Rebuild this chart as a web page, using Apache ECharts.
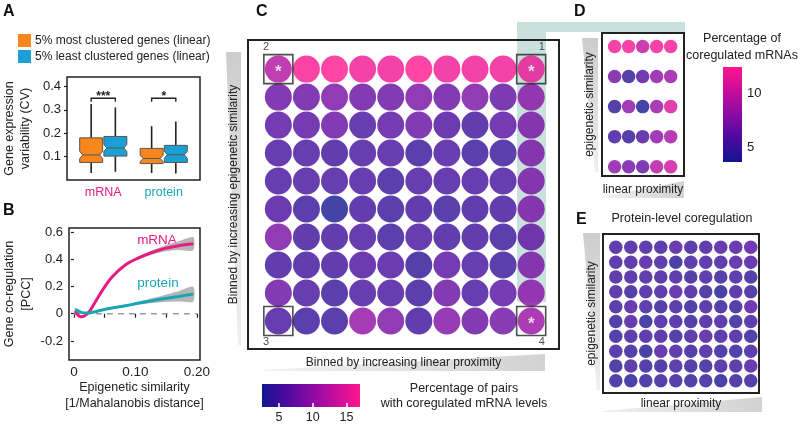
<!DOCTYPE html>
<html><head><meta charset="utf-8">
<script src="https://cdn.jsdelivr.net/npm/echarts@6/dist/echarts.min.js"></script>
<style>html,body{margin:0;padding:0;background:#fff}#c{width:800px;height:425px}</style>
</head><body><div id="c"></div>
<script>
// ---------- Panel A: gene expression variability (CV) ----------
const boxCategories = ['mRNA', 'protein'];
const legendNames = ['5% most clustered genes (linear)', '5% least clustered genes (linear)'];
// [low whisker, Q1, median, Q3, high whisker]
const mostClusteredBox = [[0.030, 0.075, 0.107, 0.180, 0.325], [0.030, 0.070, 0.092, 0.135, 0.230]];
const leastClusteredBox = [[0.035, 0.102, 0.137, 0.186, 0.310], [0.028, 0.075, 0.108, 0.148, 0.250]];
const mostClusteredNotch = [0.016, 0.014];
const leastClusteredNotch = [0.015, 0.015];
const significanceY = [0.349, 0.349];
const significanceText = ['***', '*'];
const cvTicks = [0.1, 0.2, 0.3, 0.4];

// ---------- Panel B: co-regulation vs epigenetic similarity ----------
const similarityX = [0.002, 0.011, 0.017, 0.025, 0.035, 0.046, 0.062, 0.084, 0.105, 0.127, 0.148, 0.170, 0.194];
const mrnaPCC     = [0.020, -0.022, -0.017, 0.015, 0.088, 0.170, 0.270, 0.360, 0.410, 0.450, 0.480, 0.500, 0.515];
const mrnaCI      = [0.015, 0.010, 0.008, 0.006, 0.005, 0.005, 0.006, 0.008, 0.010, 0.015, 0.022, 0.032, 0.048];
const proteinPCC  = [0.028, 0.012, 0.005, 0.008, 0.015, 0.028, 0.042, 0.058, 0.078, 0.096, 0.112, 0.127, 0.144];
const proteinCI   = [0.015, 0.010, 0.008, 0.006, 0.005, 0.005, 0.006, 0.008, 0.012, 0.018, 0.026, 0.038, 0.054];
const pccTicks = [-0.2, 0, 0.2, 0.4, 0.6];
const simLabelTicks = [0, 0.1, 0.2];
const simTicks = [0, 0.05, 0.1, 0.15, 0.2];

// ---------- Panel C: mRNA coregulation grid (rows: top = highest similarity) ----------
const cProximityBins = [1, 2, 3, 4, 5, 6, 7, 8, 9, 10];
const cSimilarityBins = [10, 9, 8, 7, 6, 5, 4, 3, 2, 1];
const cValues = [
  [12.0, 16.5, 17.0, 16.0, 16.0, 17.0, 16.0, 16.0, 16.0, 15.5],
  [7.5, 7.5, 8.5, 7.5, 7.5, 8.5, 7.5, 8.5, 7.0, 9.5],
  [6.5, 6.5, 7.5, 5.5, 6.5, 7.5, 6.0, 5.0, 6.5, 8.5],
  [5.5, 5.5, 5.0, 5.5, 5.5, 4.5, 5.5, 4.5, 4.5, 8.5],
  [5.5, 5.5, 5.5, 5.5, 4.5, 5.5, 5.5, 5.5, 5.5, 8.5],
  [6.0, 4.5, 2.5, 5.0, 4.5, 5.0, 4.5, 5.0, 5.0, 8.5],
  [8.5, 5.0, 5.0, 5.5, 4.5, 5.5, 5.0, 5.0, 4.5, 7.0],
  [5.0, 5.0, 5.0, 6.0, 6.0, 4.0, 6.5, 5.5, 4.5, 8.5],
  [7.5, 5.5, 4.5, 5.5, 5.5, 4.5, 7.5, 5.5, 6.5, 9.5],
  [5.5, 4.5, 4.5, 10.0, 8.5, 5.0, 9.0, 7.5, 8.0, 10.5]
];
const cCorners = [[10, 10], [1, 10], [1, 1], [10, 1]];
const cCornerLabels = ['1', '2', '3', '4'];
const cStarCorners = [[1, 10], [10, 10], [10, 1]];
const cScaleMin = 2.5, cScaleMax = 17;
const cColorTicks = [5, 10, 15];

// ---------- Panel D: 5x5 mRNA grid ----------
const dProximityBins = [1, 2, 3, 4, 5];
const dSimilarityBins = [5, 4, 3, 2, 1];
const dValues = [
  [12.0, 12.0, 10.0, 12.0, 12.0],
  [7.0, 4.5, 6.0, 8.0, 8.5],
  [4.3, 8.0, 3.6, 8.5, 11.0],
  [5.0, 4.5, 5.5, 8.0, 9.0],
  [8.0, 7.0, 6.5, 9.5, 10.5]
];
const dScaleMin = 3.6, dScaleMax = 12.5;
const dColorTicks = [5, 10];

// ---------- Panel E: protein-level grid ----------
const eProximityBins = [1, 2, 3, 4, 5, 6, 7, 8, 9, 10];
const eSimilarityBins = [10, 9, 8, 7, 6, 5, 4, 3, 2, 1];
const eValues = [
  [5.0, 5.0, 5.0, 5.0, 5.5, 5.0, 5.0, 5.5, 5.5, 6.0],
  [5.0, 5.0, 5.5, 5.0, 4.0, 5.0, 5.0, 5.0, 5.5, 5.5],
  [5.0, 5.0, 5.0, 5.0, 5.0, 4.5, 5.0, 4.5, 5.0, 4.5],
  [5.0, 4.5, 5.0, 5.0, 5.5, 5.0, 4.5, 3.8, 5.0, 4.5],
  [5.0, 5.5, 5.0, 4.5, 5.0, 4.5, 5.0, 4.5, 4.5, 6.0],
  [4.5, 5.5, 4.0, 5.0, 5.0, 4.5, 5.0, 5.0, 4.5, 5.0],
  [4.5, 5.0, 5.0, 5.0, 4.5, 5.0, 5.5, 5.0, 5.0, 4.5],
  [5.0, 4.5, 4.0, 5.5, 5.0, 4.5, 5.0, 4.5, 4.5, 5.0],
  [4.5, 5.0, 4.5, 4.5, 5.0, 4.5, 4.5, 5.0, 5.0, 5.5],
  [4.5, 4.0, 4.5, 4.5, 4.5, 4.5, 4.5, 4.0, 4.5, 4.5]
];

// ---------- styling ----------
const FONT = '"Liberation Sans", Arial, Helvetica, sans-serif';
const INK = '#222';
const ORANGE = '#f7861c', BLUE = '#1c9fd4';
const PINK = '#ea1a84', TEAL = '#17a6b6';
const palette = ['#14158f', '#4b0a9e', '#8a0ba4', '#c70d9c', '#ff168e'];
const paletteStops = palette.map((c, i) => ({ offset: i / (palette.length - 1), color: c }));

const chart = echarts.init(document.getElementById('c'), null, { renderer: 'canvas', width: 800, height: 425 });

function gridData(rows, xs, ys) {
  const out = [];
  rows.forEach((row, r) => row.forEach((v, c) => out.push([xs[c], ys[r], v])));
  return out;
}

function boxRenderer(color, notches) {
  return function (params, api) {
    const x = api.value(0);
    const lo = api.value(1), q1 = api.value(2), md = api.value(3), q3 = api.value(4), hi = api.value(5);
    const nt = notches[params.dataIndex];
    const hw = 0.19;
    const L = api.coord([x - hw, md])[0], R = api.coord([x + hw, md])[0], C = api.coord([x, md])[0];
    const y = v => api.coord([x, v])[1];
    const n = (R - L) * 0.13;
    const pts = [[L, y(q1)], [R, y(q1)], [R, y(md - nt)], [R - n, y(md)], [R, y(md + nt)], [R, y(q3)],
                 [L, y(q3)], [L, y(md + nt)], [L + n, y(md)], [L, y(md - nt)]];
    return { type: 'group', children: [
      { type: 'line', shape: { x1: C, y1: y(lo), x2: C, y2: y(q1) }, style: { stroke: INK, lineWidth: 1.6 } },
      { type: 'line', shape: { x1: C, y1: y(q3), x2: C, y2: y(hi) }, style: { stroke: INK, lineWidth: 1.6 } },
      { type: 'polygon', shape: { points: pts }, style: { fill: color, stroke: '#555', lineWidth: 1 } },
      { type: 'line', shape: { x1: L + n, y1: y(md), x2: R - n, y2: y(md) }, style: { stroke: '#555', lineWidth: 1 } }
    ] };
  };
}

function bandRenderer(ys, ci) {
  return function (params, api) {
    if (params.dataIndex !== 0) return null;
    const up = similarityX.map((x, i) => api.coord([x, ys[i] + ci[i]]));
    const dn = similarityX.map((x, i) => api.coord([x, ys[i] - ci[i]])).reverse();
    return { type: 'polygon', shape: { points: up.concat(dn), smooth: 0.25 }, style: { fill: '#a9a9a9', opacity: 0.85 } };
  };
}

function hiddenAxis(gridIndex, min, max, extra) {
  return Object.assign({
    gridIndex, type: 'value', min, max,
    axisLine: { show: false }, axisTick: { show: false }, axisLabel: { show: false }, splitLine: { show: false }
  }, extra || {});
}

const nameStyle = { color: INK, fontSize: 12, fontFamily: FONT };

const option = {
  backgroundColor: '#fff',
  animation: false,
  textStyle: { fontFamily: FONT },
  legend: {
    data: legendNames, left: 18, top: 34, padding: 0, orient: 'vertical', icon: 'rect',
    itemWidth: 13, itemHeight: 13, itemGap: 3, selectedMode: false,
    textStyle: { fontSize: 12, color: INK, padding: [0, 0, 0, -1] }
  },
  grid: [
    { left: 67, top: 77, width: 133, height: 103, show: true, borderColor: INK, borderWidth: 1.5 },
    { left: 68, top: 228, width: 132, height: 132, show: true, borderColor: INK, borderWidth: 1.5 },
    { left: 248, top: 40, width: 311, height: 309, show: true, borderColor: INK, borderWidth: 2 },
    { left: 602, top: 33, width: 82, height: 143, show: true, borderColor: INK, borderWidth: 2 },
    { left: 603, top: 234, width: 156, height: 159, show: true, borderColor: INK, borderWidth: 2 },
    { left: 262, top: 384, width: 98, height: 23, show: false },
    { left: 723, top: 67, width: 19, height: 95, show: false }
  ],
  xAxis: [
    { gridIndex: 0, type: 'value', min: 0.4, max: 2.6,
      axisLine: { show: false }, axisTick: { show: false }, splitLine: { show: false },
      axisLabel: { customValues: [1, 2], margin: 6, fontSize: 12.5,
        formatter: v => (Math.round(v) === 1 ? '{a|' + boxCategories[0] + '}' : '{b|' + boxCategories[1] + '}'),
        rich: { a: { color: PINK, fontSize: 12.5, fontFamily: FONT }, b: { color: TEAL, fontSize: 12.5, fontFamily: FONT } } } },
    { gridIndex: 1, type: 'value', min: -0.008, max: 0.205,
      axisLine: { show: false }, splitLine: { show: false },
      axisTick: { customValues: simTicks, length: 4, lineStyle: { color: INK, width: 1.2 } },
      axisLabel: { customValues: simLabelTicks, margin: 5, fontSize: 13.5, color: INK,
        formatter: v => (v === 0 ? '0' : v.toFixed(2)) },
      name: 'Epigenetic similarity\n[1/Mahalanobis distance]', nameLocation: 'middle', nameGap: 20,
      nameTextStyle: Object.assign({}, nameStyle, { fontSize: 12.5, lineHeight: 16 }) },
    hiddenAxis(2, -0.08, 10.99, { name: 'Binned by increasing linear proximity', nameLocation: 'middle', nameGap: 8, nameTextStyle: nameStyle, axisLabel: { show: false } }),
    hiddenAxis(3, 0.1, 5.95, { name: 'linear proximity', nameLocation: 'middle', nameGap: 8, nameTextStyle: nameStyle }),
    hiddenAxis(4, 0.147, 10.55, { name: 'linear proximity', nameLocation: 'middle', nameGap: 5, nameTextStyle: nameStyle }),
    { gridIndex: 5, type: 'value', min: cScaleMin, max: cScaleMax, z: 10,
      axisLine: { show: false }, splitLine: { show: false },
      axisTick: { customValues: cColorTicks, inside: true, length: 4, lineStyle: { color: '#fff', width: 1.5 } },
      axisLabel: { customValues: cColorTicks, margin: 4, fontSize: 12.5, color: INK } },
    hiddenAxis(6, 0, 1)
  ],
  yAxis: [
    { gridIndex: 0, type: 'value', min: 0, max: 0.44,
      axisLine: { show: false }, splitLine: { show: false },
      axisTick: { customValues: cvTicks, length: 3, lineStyle: { color: INK, width: 1.2 } },
      axisLabel: { customValues: cvTicks, margin: 6, fontSize: 13, color: INK, formatter: v => v.toFixed(1) },
      name: 'Gene expression\nvariability (CV)', nameLocation: 'middle', nameGap: 33,
      nameTextStyle: Object.assign({}, nameStyle, { fontSize: 12.5, lineHeight: 16 }) },
    { gridIndex: 1, type: 'value', min: -0.34, max: 0.63,
      axisLine: { show: false }, splitLine: { show: false },
      axisTick: { customValues: pccTicks, length: 3, lineStyle: { color: INK, width: 1.2 } },
      axisLabel: { customValues: pccTicks, margin: 6, fontSize: 13, color: INK,
        formatter: v => (Math.abs(v) < 1e-9 ? '0' : v.toFixed(1)) },
      name: 'Gene co-regulation\n[PCC]', nameLocation: 'middle', nameGap: 34,
      nameTextStyle: Object.assign({}, nameStyle, { fontSize: 12.5, lineHeight: 17 }) },
    hiddenAxis(2, 0, 11.04, { name: 'Binned by increasing epigenetic similarity', nameLocation: 'middle', nameGap: 8, nameTextStyle: nameStyle }),
    hiddenAxis(3, 0.69, 5.45, { name: 'epigenetic similarity', nameLocation: 'middle', nameGap: 6, nameTextStyle: nameStyle }),
    hiddenAxis(4, 0.18, 10.9, { name: 'epigenetic similarity', nameLocation: 'middle', nameGap: 5, nameTextStyle: nameStyle }),
    hiddenAxis(5, 0, 1),
    { gridIndex: 6, type: 'value', min: dScaleMin, max: dScaleMax, position: 'right', z: 10,
      axisLine: { show: false }, splitLine: { show: false },
      axisTick: { customValues: dColorTicks, inside: true, length: 6, lineStyle: { color: '#fff', width: 1.5 } },
      axisLabel: { customValues: dColorTicks, margin: 5, fontSize: 13, color: INK } }
  ],
  visualMap: [
    { type: 'continuous', show: false, min: cScaleMin, max: cScaleMax, dimension: 2, seriesIndex: [8], inRange: { color: palette } },
    { type: 'continuous', show: false, min: dScaleMin, max: dScaleMax, dimension: 2, seriesIndex: [11, 12], inRange: { color: palette } }
  ],
  series: [
    { name: legendNames[0], type: 'custom', xAxisIndex: 0, yAxisIndex: 0, itemStyle: { color: ORANGE },
      renderItem: boxRenderer(ORANGE, mostClusteredNotch), encode: { x: 0, y: [1, 2, 3, 4, 5] },
      data: mostClusteredBox.map((b, i) => [i + 1 - 0.2].concat(b)) },
    { name: legendNames[1], type: 'custom', xAxisIndex: 0, yAxisIndex: 0, itemStyle: { color: BLUE },
      renderItem: boxRenderer(BLUE, leastClusteredNotch), encode: { x: 0, y: [1, 2, 3, 4, 5] },
      data: leastClusteredBox.map((b, i) => [i + 1 + 0.2].concat(b)) },
    { type: 'custom', xAxisIndex: 0, yAxisIndex: 0, z: 5,
      renderItem: function (params, api) {
        const x = api.value(0), yv = api.value(1);
        const a = api.coord([x - 0.2, yv]), b = api.coord([x + 0.2, yv]);
        const leg = api.coord([x, yv - 0.015])[1];
        return { type: 'group', children: [
          { type: 'polyline', shape: { points: [[a[0], leg], [a[0], a[1]], [b[0], b[1]], [b[0], leg]] }, style: { stroke: INK, lineWidth: 1.4, fill: null } },
          { type: 'text', style: { text: significanceText[params.dataIndex], x: (a[0] + b[0]) / 2, y: a[1] - 2, align: 'center', verticalAlign: 'middle', fill: INK, font: 'bold 12px ' + FONT } }
        ] };
      },
      data: boxCategories.map((c, i) => [i + 1, significanceY[i]]) },
    { type: 'custom', xAxisIndex: 1, yAxisIndex: 1, z: 1, renderItem: bandRenderer(mrnaPCC, mrnaCI),
      data: similarityX.map((x, i) => [x, mrnaPCC[i]]) },
    { type: 'custom', xAxisIndex: 1, yAxisIndex: 1, z: 1, renderItem: bandRenderer(proteinPCC, proteinCI),
      data: similarityX.map((x, i) => [x, proteinPCC[i]]) },
    { type: 'line', xAxisIndex: 1, yAxisIndex: 1, symbol: 'none', z: 1, silent: true,
      lineStyle: { color: '#9c9c9c', width: 1.6, type: [6, 5] }, data: [[0, 0], [0.2, 0]] },
    { type: 'line', xAxisIndex: 1, yAxisIndex: 1, symbol: 'none', smooth: 0.35, z: 3,
      lineStyle: { color: PINK, width: 3 }, data: similarityX.map((x, i) => [x, mrnaPCC[i]]) },
    { type: 'line', xAxisIndex: 1, yAxisIndex: 1, symbol: 'none', smooth: 0.35, z: 3,
      lineStyle: { color: TEAL, width: 3 }, data: similarityX.map((x, i) => [x, proteinPCC[i]]) },
    { type: 'scatter', xAxisIndex: 2, yAxisIndex: 2, symbolSize: 27, z: 2,
      data: gridData(cValues, cProximityBins, cSimilarityBins) },
    { type: 'scatter', xAxisIndex: 2, yAxisIndex: 2, symbol: 'rect', symbolSize: 29, z: 4,
      itemStyle: { color: 'rgba(0,0,0,0)', borderColor: INK, borderWidth: 1.6 },
      data: cCorners.map((p, i) => ({
        value: p,
        label: { show: true, formatter: cCornerLabels[i], fontSize: 11, color: INK,
          position: [[29, -7], [0, -7], [0, 36], [29, 36]][i],
          align: (i === 0 || i === 3) ? 'right' : 'left', verticalAlign: 'middle' }
      })) },
    { type: 'scatter', xAxisIndex: 2, yAxisIndex: 2, symbolSize: 1, z: 5,
      itemStyle: { color: 'rgba(0,0,0,0)' },
      label: { show: true, position: 'inside', formatter: '*', color: '#fff', fontSize: 17, fontWeight: 'bold', offset: [0, 3] },
      data: cStarCorners },
    { type: 'scatter', xAxisIndex: 3, yAxisIndex: 3, symbolSize: 13.5, z: 2,
      data: gridData(dValues, dProximityBins, dSimilarityBins) },
    { type: 'scatter', xAxisIndex: 4, yAxisIndex: 4, symbolSize: 13.5, z: 2,
      data: gridData(eValues, eProximityBins, eSimilarityBins) },
    { type: 'custom', xAxisIndex: 5, yAxisIndex: 5, z: 2,
      renderItem: function (params, api) {
        const p0 = api.coord([cScaleMin, 0]), p1 = api.coord([cScaleMax, 1]);
        return { type: 'rect', shape: { x: p0[0], y: p1[1], width: p1[0] - p0[0], height: p0[1] - p1[1] },
          style: { fill: new echarts.graphic.LinearGradient(0, 0, 1, 0, paletteStops) } };
      },
      data: [[cScaleMin, 0]] },
    { type: 'custom', xAxisIndex: 6, yAxisIndex: 6, z: 2,
      renderItem: function (params, api) {
        const p0 = api.coord([0, dScaleMin]), p1 = api.coord([1, dScaleMax]);
        return { type: 'rect', shape: { x: p0[0], y: p1[1], width: p1[0] - p0[0], height: p0[1] - p1[1] },
          style: { fill: new echarts.graphic.LinearGradient(0, 1, 0, 0, paletteStops) } };
      },
      data: [[0, dScaleMin]] }
  ],
  graphic: [
    // decorations (teal highlight, gradient wedges)
    { type: 'polygon', z: -1, shape: { points: [[517, 22], [685, 22], [685, 32], [546, 32], [546, 302], [517, 302]] }, style: { fill: '#c9e1dc' } },
    { type: 'polygon', z: -1, shape: { points: [[226, 52], [241, 52], [241, 345], [238, 345]] },
      style: { fill: new echarts.graphic.LinearGradient(0, 0, 0, 1, [{ offset: 0, color: '#cdcdcd' }, { offset: 1, color: '#efefef' }]) } },
    { type: 'polygon', z: -1, shape: { points: [[262, 370], [545, 354], [545, 371], [262, 371]] },
      style: { fill: new echarts.graphic.LinearGradient(0, 0, 1, 0, [{ offset: 0, color: '#f2f2f2' }, { offset: 1, color: '#d2d2d2' }]) } },
    { type: 'polygon', z: -1, shape: { points: [[582, 38], [598, 38], [598, 172], [595, 172]] },
      style: { fill: new echarts.graphic.LinearGradient(0, 0, 0, 1, [{ offset: 0, color: '#cdcdcd' }, { offset: 1, color: '#efefef' }]) } },
    { type: 'polygon', z: -1, shape: { points: [[602, 197], [684, 181], [684, 198], [602, 198]] },
      style: { fill: new echarts.graphic.LinearGradient(0, 0, 1, 0, [{ offset: 0, color: '#f0f0f0' }, { offset: 1, color: '#d2d2d2' }]) } },
    { type: 'polygon', z: -1, shape: { points: [[583, 233], [600, 233], [600, 390], [597, 390]] },
      style: { fill: new echarts.graphic.LinearGradient(0, 0, 0, 1, [{ offset: 0, color: '#cdcdcd' }, { offset: 1, color: '#efefef' }]) } },
    { type: 'polygon', z: -1, shape: { points: [[603, 411], [762, 397], [762, 412], [603, 412]] },
      style: { fill: new echarts.graphic.LinearGradient(0, 0, 1, 0, [{ offset: 0, color: '#f0f0f0' }, { offset: 1, color: '#d2d2d2' }]) } },
    // panel letters
    { type: 'text', style: { text: 'A', x: 3, y: 12, verticalAlign: 'middle', font: 'bold 16px ' + FONT, fill: '#111' } },
    { type: 'text', style: { text: 'B', x: 3, y: 211, verticalAlign: 'middle', font: 'bold 16px ' + FONT, fill: '#111' } },
    { type: 'text', style: { text: 'C', x: 256, y: 12, verticalAlign: 'middle', font: 'bold 16px ' + FONT, fill: '#111' } },
    { type: 'text', style: { text: 'D', x: 574, y: 12, verticalAlign: 'middle', font: 'bold 16px ' + FONT, fill: '#111' } },
    { type: 'text', style: { text: 'E', x: 576, y: 220, verticalAlign: 'middle', font: 'bold 16px ' + FONT, fill: '#111' } },
    // curve labels in B
    { type: 'text', style: { text: 'mRNA', x: 157, y: 240, align: 'center', verticalAlign: 'middle', font: '13.5px ' + FONT, fill: PINK } },
    { type: 'text', style: { text: 'protein', x: 158, y: 283, align: 'center', verticalAlign: 'middle', font: '13.5px ' + FONT, fill: TEAL } },
    // colour bar titles / panel titles
    { type: 'text', style: { text: 'Percentage of pairs\nwith coregulated mRNA levels', x: 464, y: 396, align: 'center', verticalAlign: 'middle', lineHeight: 15, font: '12.5px ' + FONT, fill: INK } },
    { type: 'text', style: { text: 'Percentage of\ncoregulated mRNAs', x: 742, y: 47, align: 'center', verticalAlign: 'middle', lineHeight: 17, font: '12.5px ' + FONT, fill: INK } },
    { type: 'text', style: { text: 'Protein-level coregulation', x: 682, y: 219, align: 'center', verticalAlign: 'middle', font: '12.5px ' + FONT, fill: INK } }
  ]
};

chart.setOption(option);
</script>
</body></html>
